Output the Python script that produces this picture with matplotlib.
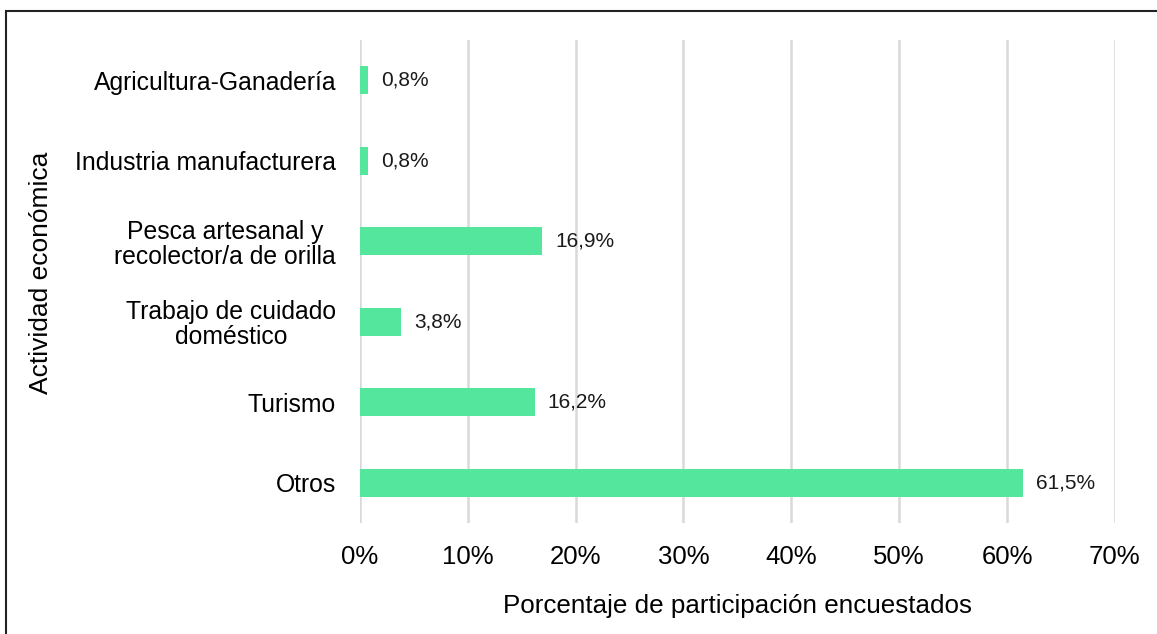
import numpy as np
import matplotlib.pyplot as plt
from matplotlib.patches import Rectangle

plt.rcParams["font.family"] = ["Liberation Sans", "DejaVu Sans"]

categories = ["Agricultura-Ganadería", "Industria manufacturera",
              "Pesca artesanal y\nrecolector/a de orilla",
              "Trabajo de cuidado\ndoméstico", "Turismo", "Otros"]
values = [0.8, 0.8, 16.9, 3.8, 16.2, 61.5]
ticks = [0, 10, 20, 30, 40, 50, 60, 70]

fig = plt.figure(figsize=(11.57, 6.34), dpi=100)
ax = fig.add_axes([0.311, 0.175, 0.6526, 0.762])

y = np.arange(len(categories))
ax.barh(y, values, height=0.35, color="#55e69e", zorder=3)
for yi, v in zip(y, values):
    ax.text(v + 1.2, yi, f"{v:.1f}%".replace(".", ","), va="center", ha="left",
            fontsize=15, color="#1a1a1a")

ax.set_ylim(len(categories) - 0.5, -0.5)
ax.set_xlim(0, 70)
ax.set_xticks(ticks)
ax.set_xticklabels([f"{t}%" for t in ticks], fontsize=18.5)
ax.set_yticks(y)
ax.set_yticklabels(categories, fontsize=17.8, linespacing=1.05,
                   multialignment="center")
ax.tick_params(axis="y", length=0, pad=17)
ax.tick_params(axis="x", length=0, pad=16)
ax.xaxis.grid(True, color="#d9d9d9", linewidth=1.8, zorder=0)
for s in ax.spines.values():
    s.set_visible(False)

ax.set_xlabel("Porcentaje de participación encuestados", fontsize=18.7, labelpad=18)
fig.text(41 / 1157, 1 - 273 / 634, "Actividad económica", rotation=90,
         fontsize=19, ha="center", va="center")

fig.patches.append(Rectangle((6 / 1157, -0.05), 1.2, 1 - 11 / 634 + 0.05,
                             transform=fig.transFigure, fill=False,
                             edgecolor="#222222", linewidth=1.5))

plt.savefig("out.png", dpi=100)
